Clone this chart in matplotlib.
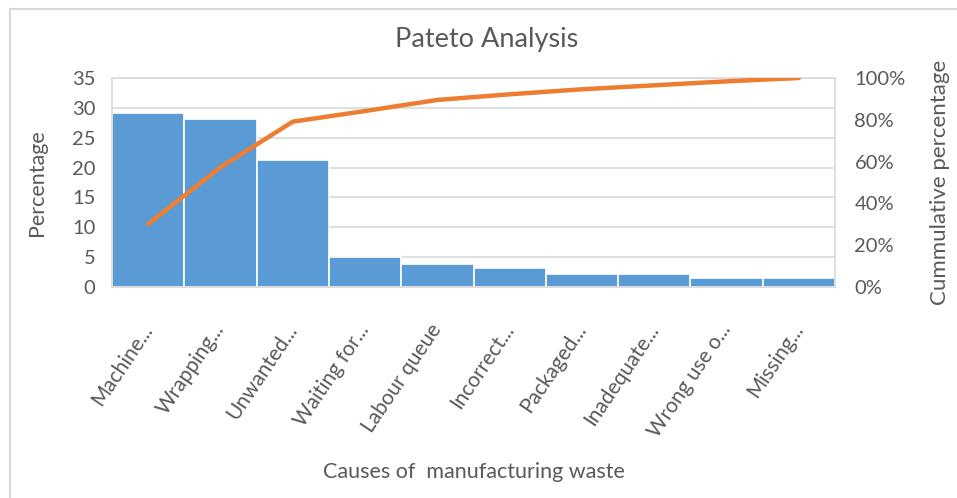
import matplotlib.pyplot as plt
from matplotlib.ticker import PercentFormatter, MultipleLocator
from matplotlib.lines import Line2D

causas = ["Machine...", "Wrapping...", "Unwanted...", "Waiting for...", "Labour queue",
          "Incorrect...", "Packaged...", "Inadequate...", "Wrong use o...", "Missing..."]
porcentaje = [29.2, 28.2, 21.2, 5.1, 3.9, 3.1, 2.1, 2.1, 1.45, 1.45]
acumulado = [30.1, 57.3, 79.1, 84.2, 89.5, 92.2, 94.6, 96.5, 98.4, 100.0]

gris = "#595959"
plt.rcParams["font.family"] = ["Lato", "DejaVu Sans"]

fig = plt.figure(figsize=(9.57, 4.98), dpi=100)
ax = fig.add_axes([112 / 957, 1 - 287 / 498, (835 - 112) / 957, (287 - 78) / 498])

x = list(range(len(causas)))
ax.bar(x, porcentaje, width=1.0, color="#5B9BD5", edgecolor="white", linewidth=1.2, zorder=2)
ax.set_xlim(-0.5, len(causas) - 0.5)
ax.set_ylim(0, 35)
ax.yaxis.set_major_locator(MultipleLocator(5))
ax.grid(axis="y", color="#d9d9d9", linewidth=1.2, zorder=0)
ax.set_axisbelow(True)
for s in ax.spines.values():
    s.set_color("#d9d9d9")
    s.set_linewidth(1.2)

ax.set_xticks(x)
ax.set_xticklabels(causas, rotation=56, ha="right", va="center", rotation_mode="anchor")
ax.tick_params(axis="x", length=0, pad=28, labelsize=15, labelcolor=gris)
ax.tick_params(axis="y", length=0, pad=12, labelsize=14.5, labelcolor=gris)
ax.set_ylabel("Percentage", fontsize=15.5, color=gris)
ax.yaxis.set_label_coords((47 - 112) / 723, 0.5)

ax2 = ax.twinx()
ax2.plot(x, acumulado, color="#ED7D31", linewidth=3.2, solid_capstyle="round", zorder=3)
ax2.set_ylim(0, 100)
ax2.yaxis.set_major_locator(MultipleLocator(20))
ax2.yaxis.set_major_formatter(PercentFormatter(decimals=0))
ax2.tick_params(axis="y", length=0, pad=14, labelsize=14.5, labelcolor=gris)
ax2.set_ylabel("Cummulative percentage", fontsize=16, color=gris)
ax2.yaxis.set_label_coords((930 - 112) / 723, 0.5)
for s in ax2.spines.values():
    s.set_visible(False)

fig.text(487 / 957, 1 - 40 / 498, "Pateto Analysis", ha="center", va="center",
         fontsize=19.5, color=gris)
fig.text(474 / 957, 1 - 472 / 498, "Causes of  manufacturing waste", ha="center",
         va="center", fontsize=15.5, color=gris)

# borde del area del grafico
fig.add_artist(Line2D([10 / 957, 10 / 957], [0, 1 - 9 / 498], transform=fig.transFigure,
                      color="#d9d9d9", linewidth=1.5))
fig.add_artist(Line2D([10 / 957, 1], [1 - 9 / 498, 1 - 9 / 498], transform=fig.transFigure,
                      color="#d9d9d9", linewidth=1.5))

fig.savefig("out.png", dpi=100)
